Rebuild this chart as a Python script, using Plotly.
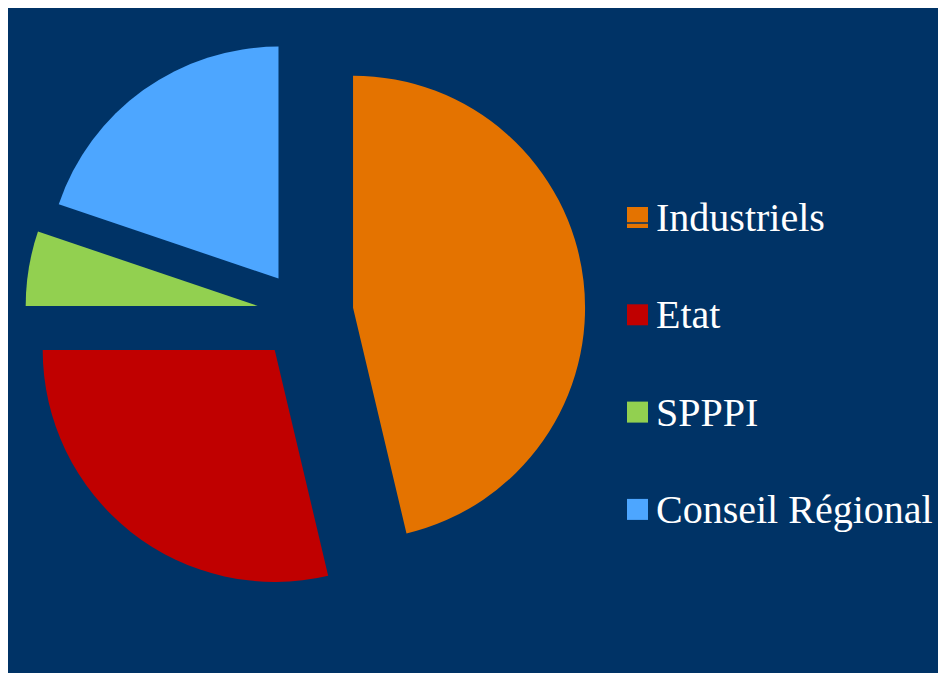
import plotly.graph_objects as go

labels = ["Industriels", "Etat", "SPPPI", "Conseil Régional"]
values = [46.3, 28.7, 5.2, 19.8]
colors = ["#E47300", "#C00000", "#92D050", "#4DA6FF"]
pulls = [0.215, 0.2, 0.2, 0.185]

W, H = 960, 690
BG = "#003366"

fig = go.Figure()
fig.add_trace(go.Pie(
    labels=labels, values=values, sort=False, direction="clockwise", rotation=0,
    pull=pulls, marker=dict(colors=colors, line=dict(width=0)),
    textinfo="none", showlegend=False, hoverinfo="label+percent",
    domain=dict(x=[13.6 / W, 577.4 / W], y=[1 - 587.4 / H, 1 - 23.6 / H]),
))

# custom legend built from labels/colors
sq = 21
x_sq = 619
y0, dy = 209.5, 97.3
shapes, annotations = [], []
for i, (lab, col) in enumerate(zip(labels, colors)):
    cy = y0 + i * dy
    shapes.append(dict(type="rect", xref="paper", yref="paper",
                       x0=x_sq / W, x1=(x_sq + sq) / W,
                       y0=1 - (cy + sq / 2) / H, y1=1 - (cy - sq / 2) / H,
                       fillcolor=col, line=dict(width=0)))
    annotations.append(dict(xref="paper", yref="paper", x=646 / W, y=1 - cy / H,
                            xanchor="left", yanchor="middle", showarrow=False,
                            text=lab, font=dict(family="Liberation Serif", size=40, color="white")))
# thin dark line visible across the first legend square
shapes.append(dict(type="line", xref="paper", yref="paper",
                   x0=x_sq / W, x1=(x_sq + sq) / W,
                   y0=1 - (y0 + 5.5) / H, y1=1 - (y0 + 5.5) / H,
                   line=dict(color=BG, width=1.5)))

fig.update_layout(
    width=W, height=H, paper_bgcolor=BG, plot_bgcolor=BG,
    margin=dict(l=0, r=0, t=0, b=0),
    shapes=shapes, annotations=annotations,
)
fig.write_html("out.html")
